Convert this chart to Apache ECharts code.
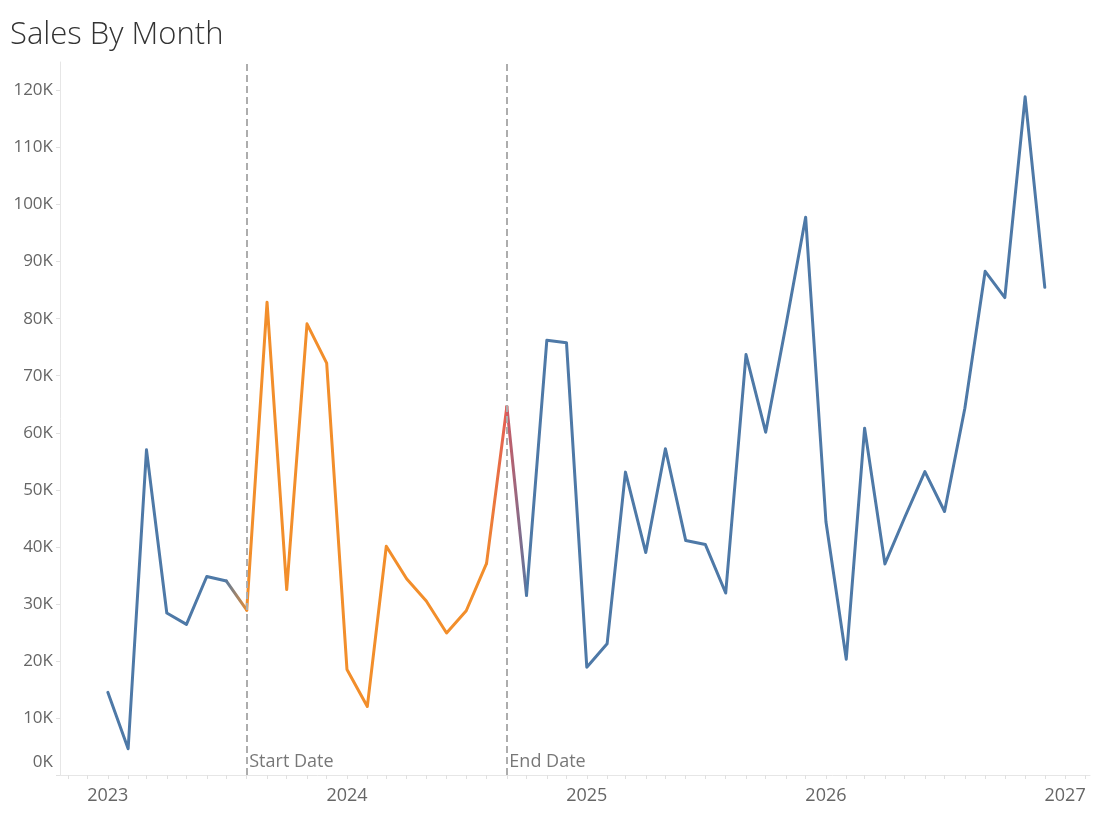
<!DOCTYPE html>
<html>
<head>
<meta charset="utf-8">
<script src="https://cdn.jsdelivr.net/npm/echarts@6/dist/echarts.min.js"></script>
<style>
html,body{margin:0;padding:0;background:#fff;}
#chart{width:1102px;height:816px;}
</style>
</head>
<body>
<div id="chart"></div>
<script>
// 月份（每月第一天）
var months = [
	'2023-01-01','2023-02-01','2023-03-01','2023-04-01','2023-05-01','2023-06-01',
	'2023-07-01','2023-08-01','2023-09-01','2023-10-01','2023-11-01','2023-12-01',
	'2024-01-01','2024-02-01','2024-03-01','2024-04-01','2024-05-01','2024-06-01',
	'2024-07-01','2024-08-01','2024-09-01','2024-10-01','2024-11-01','2024-12-01',
	'2025-01-01','2025-02-01','2025-03-01','2025-04-01','2025-05-01','2025-06-01',
	'2025-07-01','2025-08-01','2025-09-01','2025-10-01','2025-11-01','2025-12-01',
	'2026-01-01','2026-02-01','2026-03-01','2026-04-01','2026-05-01','2026-06-01',
	'2026-07-01','2026-08-01','2026-09-01','2026-10-01','2026-11-01','2026-12-01'
];
// 销售额
var sales = [
	14500, 4600, 57000, 28400, 26400, 34800, 34000, 28900, 82900, 32500, 79100, 72200,
	18500, 12000, 40100, 34400, 30500, 24900, 28800, 37100, 64600, 31500, 76200, 75800,
	18900, 23000, 53100, 39000, 57200, 41100, 40400, 31900, 73700, 60100, 78900, 97800,
	44400, 20300, 60800, 37000, 45100, 53200, 46200, 64300, 88300, 83700, 118900, 85500
];
var startDate = '2023-08-01';
var endDate = '2024-09-01';
var refLabels = ['Start Date', 'End Date'];
var yTicks = [0,10000,20000,30000,40000,50000,60000,70000,80000,90000,100000,110000,120000];
var xYears = ['2023-01-01','2024-01-01','2025-01-01','2026-01-01','2027-01-01'];
var xMin = '2022-10-20';
var xMax = '2027-02-08';

var blue = '#4e79a7', orange = '#f28e2b', red = '#e15759';
var font = 'Open Sans';
var ts = function(s){ return +echarts.number.parseDate(s); };

// 每月刻度
var monthTicks = [];
for (var y = 2022; y <= 2027; y++) {
	for (var m = 1; m <= 12; m++) {
		var t = ts(y + '-' + (m < 10 ? '0' + m : m) + '-01');
		if (t > ts(xMin) && t < ts(xMax)) monthTicks.push(t);
	}
}

var seg = function(a, b){
	var out = [];
	for (var i = a; i <= b; i++) out.push([ts(months[i]), sales[i]]);
	return out;
};
var iStart = months.indexOf(startDate);
var iEnd = months.indexOf(endDate);

var grad = function(c1, c2){
	return new echarts.graphic.LinearGradient(0, 0, 1, 0, [
		{offset: 0, color: c1}, {offset: 1, color: c2}
	]);
};
var lineS = function(data, color){
	return {
		type: 'line', data: data, symbol: 'none', silent: true,
		lineStyle: {width: 3, color: color, cap: 'round', join: 'round'},
		itemStyle: {color: typeof color === 'string' ? color : blue}
	};
};

var dom = document.getElementById('chart');
var myChart = echarts.init(dom);
var series = [
	lineS(seg(0, iStart - 1), blue),
	lineS(seg(iStart - 1, iStart), grad(blue, orange)),
	lineS(seg(iStart, iEnd - 1), orange),
	lineS(seg(iEnd - 1, iEnd), grad(orange, red)),
	lineS(seg(iEnd, iEnd + 1), grad(red, blue)),
	lineS(seg(iEnd + 1, months.length - 1), blue)
];
// 参考线
series[0].markLine = {
	silent: true,
	symbol: 'none',
	label: {show: false},
	lineStyle: {color: '#adadad', type: [7, 4], width: 2},
	data: [{xAxis: ts(startDate)}, {xAxis: ts(endDate)}]
};
// 参考线标签
series.push({
	type: 'scatter', silent: true, symbolSize: 1,
	itemStyle: {color: 'rgba(0,0,0,0)'},
	data: [[ts(startDate), 0, refLabels[0]], [ts(endDate), 0, refLabels[1]]],
	label: {
		show: true, position: 'right', distance: 2, offset: [0, -13],
		formatter: function(p){ return p.data[2]; },
		color: '#555', fontSize: 18, fontFamily: font
	},
	z: 10
});

var option = {
	animation: false,
	backgroundColor: '#fff',
	title: {
		text: 'Sales By Month',
		left: 10, top: 20, padding: 0,
		textStyle: {fontFamily: font, fontWeight: 300, fontSize: 31, color: '#333'}
	},
	grid: {left: 60, right: 12, top: 62, bottom: 41, containLabel: false},
	xAxis: {
		type: 'value',
		min: ts(xMin), max: ts(xMax),
		splitLine: {show: false},
		axisLine: {show: true, lineStyle: {color: '#e6e6e6', width: 1}},
		axisTick: {show: true, length: 4, lineStyle: {color: '#e0e0e0'}, customValues: monthTicks},
		axisLabel: {
			color: '#666', fontSize: 18, fontFamily: font, margin: 12,
			customValues: xYears.map(ts),
			formatter: function(v){ return echarts.time.format(v, '{yyyy}', false); }
		}
	},
	yAxis: {
		type: 'value',
		min: 0, max: 125000,
		splitLine: {show: false},
		axisLine: {show: true, lineStyle: {color: '#e6e6e6', width: 1}},
		axisTick: {show: true, length: 4, lineStyle: {color: '#e0e0e0'}, customValues: yTicks},
		axisLabel: {
			color: '#666', fontSize: 17, fontFamily: font, margin: 7,
			customValues: yTicks,
			formatter: function(v){ return v === 0 ? '{z|0K}' : (v / 1000) + 'K'; },
			rich: {z: {color: '#666', fontSize: 17, fontFamily: font, padding: [0, 0, 26, 0]}}
		}
	},
	series: series
};
if (option && typeof option === 'object') {
	myChart.setOption(option, true);
}
</script>
</body>
</html>
